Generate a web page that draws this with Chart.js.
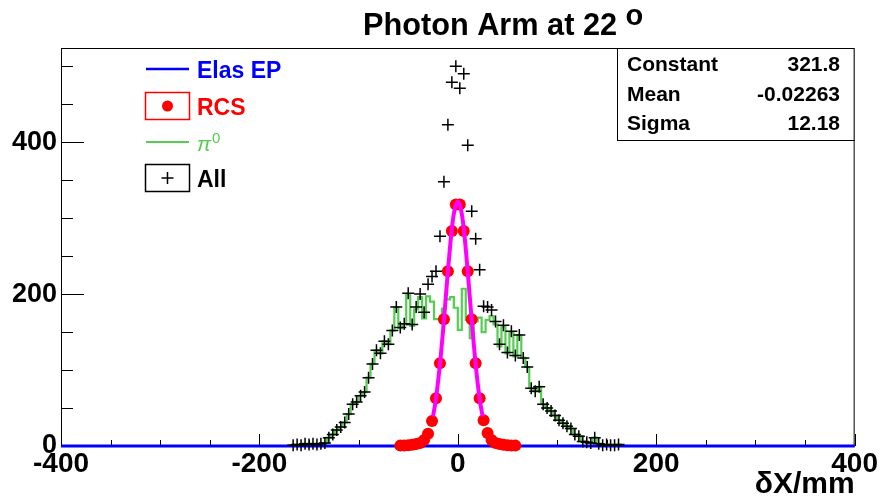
<!DOCTYPE html>
<html><head><meta charset="utf-8">
<script src="https://cdn.jsdelivr.net/npm/chart.js@4/dist/chart.umd.min.js"></script>
<style>html,body{margin:0;padding:0;background:#fff;overflow:hidden}#wrap{width:879px;height:503px}</style>
</head><body><div id="wrap"><canvas id="c" width="879" height="503"></canvas></div>
<script>
// ---------- data ----------
const titleText = 'Photon Arm at 22 ';
const titleSup = 'o';
const xAxisTitle = 'δX/mm';
const xTicks = [-400, -200, 0, 200, 400];
const yTicks = [0, 200, 400];
const legendLabels = ['Elas EP', 'RCS', 'π', 'All'];
const legendPiSup = '0';
const statNames = ['Constant', 'Mean', 'Sigma'];
const statValues = ['321.8', '-0.02263', '12.18'];
const binWidth = 4;

const binCenters = [
 -166,-162,-158,-154,-150,-146,-142,-138,-134,-130,
 -126,-122,-118,-114,-110,-106,-102,-98,-94,-90,
 -86,-82,-78,-74,-70,-66,-62,-58,-54,-50,
 -46,-42,-38,-34,-30,-26,-22,-18,-14,-10,
 -6,-2,2,6,10,14,18,22,26,30,
 34,38,42,46,50,54,58,62,66,70,
 74,78,82,86,90,94,98,102,106,110,
 114,118,122,126,130,134,138,142,146,150,
 154,158,162,166];
const pi0Values = [
 1,2,1,3,2,3,2,3,4,11,
 15,21,25,31,42,55,58,66,71,90,
 108,126,122,138,134,152,183,155,160,200,
 158,180,196,168,197,190,167,167,181,193,
 196,182,153,207,166,142,164,169,150,166,
 171,160,131,157,122,150,118,146,116,104,
 76,72,78,55,50,46,40,34,30,26,
 23,15,13,6,5,4,11,3,1,2,
 1,1,2,0];
const allValues = [
 1,2,1,3,2,3,2,3,4,11,
 15,21,25,31,42,55,58,66,71,90,
 108,126,122,138,134,152,183,156,161,201,
 160,183,200,176,213,223,230,276,348,423,
 479,500,471,490,396,309,273,232,184,183,
 179,164,134,159,123,151,119,146,116,104,
 76,72,78,55,50,46,40,34,30,26,
 23,15,13,6,5,4,11,3,1,2,
 1,1,2,0];
const rcsCenters = [-58,-54,-50,-46,-42,-38,-34,-30,-26,-22,-18,-14,-10,-6,-2,
                    2,6,10,14,18,22,26,30,34,38,42,46,50,54,58];
const rcsValues = [0.5,0.5,1,1.5,2.5,4,8,16,33,63,109,167,230,283,318,
                   318,283,230,167,109,63,34,17,8,4,2.5,1.5,1,0.5,0.5];
const fitX = [-25,-22.5,-20,-17.5,-15,-12.5,-10,-7.5,-5,-2.5,0,2.5,5,7.5,10,12.5,15,17.5,20,22.5,25];
const fitY = [39,58,84,114,150,190,230,267,297,315,322,315,297,267,230,189,150,114,83,58,39];
const elasX = [-400, 400];
const elasY = [0, 0];

// ---------- build tables ----------
const F = "'Liberation Sans', Arial, Helvetica, sans-serif";
const pi0Steps = [];
binCenters.forEach((c, i) => {
  if (i === 0) pi0Steps.push({x: c - binWidth / 2, y: 0});
  pi0Steps.push({x: c - binWidth / 2, y: pi0Values[i]});
  pi0Steps.push({x: c + binWidth / 2, y: pi0Values[i]});
  if (i === binCenters.length - 1) pi0Steps.push({x: c + binWidth / 2, y: 0});
});
const allPts = binCenters.map((c, i) => ({x: c, y: allValues[i]})).filter(p => p.y > 0);
const rcsPts = rcsCenters.map((c, i) => ({x: c, y: rcsValues[i]}));
const fitPts = fitX.map((v, i) => ({x: v, y: fitY[i]}));
const elasPts = elasX.map((v, i) => ({x: v, y: elasY[i]}));

const GREEN = 'rgb(84,205,80)';

const decor = {
  id: 'decor',
  beforeDatasetsDraw(chart) {
    const {ctx, chartArea: a, scales: {x, y}} = chart;
    ctx.save();
    ctx.strokeStyle = '#000'; ctx.lineWidth = 1;
    for (let v = -400; v <= 400; v += 50) {
      const px = Math.round(x.getPixelForValue(v)) + 0.5;
      const len = (v % 200 === 0) ? 12 : 6;
      ctx.beginPath(); ctx.moveTo(px, a.bottom); ctx.lineTo(px, a.bottom - len); ctx.stroke();
    }
    for (let v = 0; v <= 500; v += 50) {
      const py = Math.round(y.getPixelForValue(v)) + 0.5;
      const len = (v % 200 === 0) ? 23 : 12;
      ctx.beginPath(); ctx.moveTo(a.left, py); ctx.lineTo(a.left + len, py); ctx.stroke();
    }
    ctx.strokeRect(a.left + 0.5, a.top + 0.5, a.right - a.left - 1, a.bottom - a.top);
    ctx.restore();
  },
  afterDraw(chart) {
    const {ctx, chartArea: a} = chart;
    ctx.save();
    // title
    ctx.fillStyle = '#000';
    ctx.textBaseline = 'alphabetic';
    ctx.textAlign = 'left';
    ctx.font = 'bold 30.7px ' + F;
    ctx.fillText(titleText, 363, 35);
    const tw = ctx.measureText(titleText).width;
    ctx.font = 'bold 29px ' + F;
    ctx.fillText(titleSup, 363 + tw, 25);

    // legend
    const lx0 = 146, lx1 = 189, tx = 197;
    ctx.font = 'bold 23px ' + F;
    // Elas EP
    ctx.strokeStyle = '#0000ff'; ctx.lineWidth = 2.5;
    ctx.beginPath(); ctx.moveTo(lx0, 69); ctx.lineTo(lx1, 69); ctx.stroke();
    ctx.fillStyle = '#0000ff'; ctx.fillText(legendLabels[0], tx, 78);
    // RCS
    ctx.strokeStyle = '#ff0000'; ctx.lineWidth = 1.5;
    ctx.strokeRect(145.5, 92.5, 44, 27);
    ctx.fillStyle = '#ff0000';
    ctx.beginPath(); ctx.arc(167.5, 106, 5.5, 0, Math.PI * 2); ctx.fill();
    ctx.fillText(legendLabels[1], tx, 115);
    // pi0
    ctx.strokeStyle = GREEN; ctx.lineWidth = 2;
    ctx.beginPath(); ctx.moveTo(lx0, 142); ctx.lineTo(lx1, 142); ctx.stroke();
    ctx.fillStyle = GREEN;
    ctx.font = 'italic 21px ' + F;
    ctx.fillText(legendLabels[2], tx, 151);
    const pw = ctx.measureText(legendLabels[2]).width;
    ctx.font = '15px ' + F;
    ctx.fillText(legendPiSup, tx + pw + 1, 143);
    // All
    ctx.strokeStyle = '#000'; ctx.lineWidth = 1.5;
    ctx.strokeRect(145.5, 164.5, 44, 27);
    ctx.beginPath();
    ctx.moveTo(161.5, 178); ctx.lineTo(173.5, 178);
    ctx.moveTo(167.5, 172); ctx.lineTo(167.5, 184);
    ctx.stroke();
    ctx.fillStyle = '#000';
    ctx.font = 'bold 23px ' + F;
    ctx.fillText(legendLabels[3], tx, 187);

    // stats box
    const bx = 617, by = a.top, bw = a.right - 617, bh = 92;
    ctx.fillStyle = '#fff';
    ctx.fillRect(bx, by, bw, bh);
    ctx.strokeStyle = '#000'; ctx.lineWidth = 1;
    ctx.strokeRect(bx + 0.5, by + 0.5, bw - 1, bh);
    ctx.fillStyle = '#000';
    ctx.font = 'bold 21px ' + F;
    const rows = [71, 101, 130];
    statNames.forEach((n, i) => {
      ctx.textAlign = 'left'; ctx.fillText(n, 627, rows[i]);
      ctx.textAlign = 'right'; ctx.fillText(statValues[i], 840, rows[i]);
    });
    ctx.restore();
  }
};

new Chart(document.getElementById('c'), {
  type: 'scatter',
  data: {
    datasets: [
      {label: 'All', data: allPts, order: 0, showLine: false, pointStyle: 'cross',
       pointRadius: 6, pointBorderColor: '#000', pointBorderWidth: 1.5, clip: false},
      {label: 'Fit', data: fitPts, order: 1, showLine: true, borderColor: '#ff00ff', borderWidth: 4,
       pointRadius: 0, cubicInterpolationMode: 'monotone'},
      {label: 'RCS', data: rcsPts, order: 2, showLine: false, pointStyle: 'circle',
       pointRadius: 6, pointBackgroundColor: '#ff0000', pointBorderColor: '#ff0000', pointBorderWidth: 0, clip: false},
      {label: 'Elas EP', data: elasPts, order: 3, showLine: true, borderColor: '#0000ff', borderWidth: 3,
       pointRadius: 0, clip: false},
      {label: 'pi0', data: pi0Steps, order: 4, showLine: true, borderColor: GREEN, borderWidth: 2.2,
       pointRadius: 0, tension: 0}
    ]
  },
  options: {
    responsive: false, animation: false, events: [],
    layout: {padding: {top: 48, right: 24, left: 0, bottom: 0}},
    plugins: {legend: {display: false}, title: {display: false}, tooltip: {enabled: false}},
    scales: {
      x: {
        type: 'linear', min: -400, max: 400,
        afterBuildTicks: s => { s.ticks = xTicks.map(v => ({value: v})); },
        afterFit: s => { s.height = 57; },
        grid: {display: false, drawTicks: false}, border: {display: false},
        ticks: {font: {family: F, size: 28, weight: 'bold'}, color: '#000', padding: 1,
                maxRotation: 0, autoSkip: false, callback: v => String(v)},
        title: {display: true, text: xAxisTitle, align: 'end', color: '#000',
                font: {family: F, size: 30, weight: 'bold'}, padding: 0}
      },
      y: {
        type: 'linear', min: 0, max: 524,
        afterBuildTicks: s => { s.ticks = yTicks.map(v => ({value: v})); },
        afterFit: s => { s.width = 61; },
        grid: {display: false, drawTicks: false}, border: {display: false},
        ticks: {font: {family: F, size: 27, weight: 'bold'}, color: '#000', padding: 4,
                autoSkip: false, callback: v => String(v)}
      }
    }
  },
  plugins: [decor]
});
</script>
</body></html>
